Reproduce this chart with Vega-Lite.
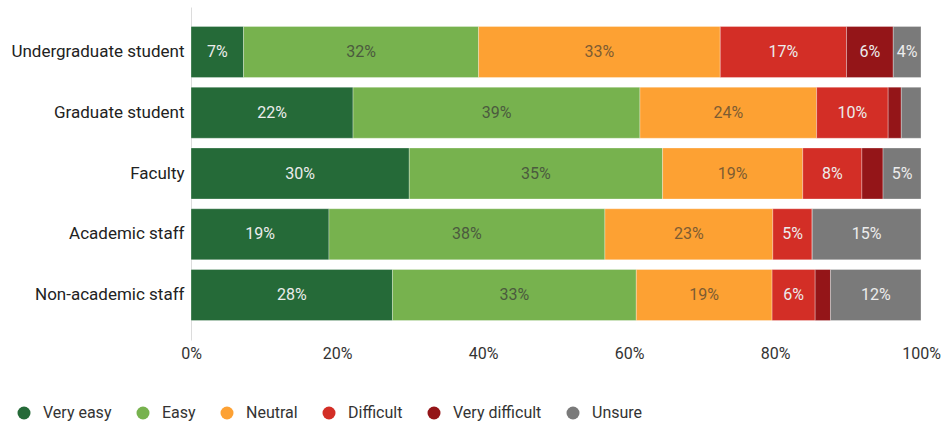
{
  "$schema": "https://vega.github.io/schema/vega-lite/v6.json",
  "width": 730,
  "height": 333,
  "autosize": {"type": "none"},
  "padding": {"left": 191, "top": 7, "right": 24, "bottom": 86},
  "background": "white",
  "config": {
    "font": "Roboto",
    "view": {"stroke": null}
  },
  "data": {
    "values": [
      {"group": "Undergraduate student", "cat": "Very easy", "k": 1, "value": 0.072},
      {"group": "Undergraduate student", "cat": "Easy", "k": 2, "value": 0.322},
      {"group": "Undergraduate student", "cat": "Neutral", "k": 3, "value": 0.331},
      {"group": "Undergraduate student", "cat": "Difficult", "k": 4, "value": 0.173},
      {"group": "Undergraduate student", "cat": "Very difficult", "k": 5, "value": 0.064},
      {"group": "Undergraduate student", "cat": "Unsure", "k": 6, "value": 0.038},
      {"group": "Graduate student", "cat": "Very easy", "k": 1, "value": 0.222},
      {"group": "Graduate student", "cat": "Easy", "k": 2, "value": 0.393},
      {"group": "Graduate student", "cat": "Neutral", "k": 3, "value": 0.242},
      {"group": "Graduate student", "cat": "Difficult", "k": 4, "value": 0.098},
      {"group": "Graduate student", "cat": "Very difficult", "k": 5, "value": 0.018},
      {"group": "Graduate student", "cat": "Unsure", "k": 6, "value": 0.027},
      {"group": "Faculty", "cat": "Very easy", "k": 1, "value": 0.299},
      {"group": "Faculty", "cat": "Easy", "k": 2, "value": 0.347},
      {"group": "Faculty", "cat": "Neutral", "k": 3, "value": 0.192},
      {"group": "Faculty", "cat": "Difficult", "k": 4, "value": 0.081},
      {"group": "Faculty", "cat": "Very difficult", "k": 5, "value": 0.029},
      {"group": "Faculty", "cat": "Unsure", "k": 6, "value": 0.052},
      {"group": "Academic staff", "cat": "Very easy", "k": 1, "value": 0.189},
      {"group": "Academic staff", "cat": "Easy", "k": 2, "value": 0.378},
      {"group": "Academic staff", "cat": "Neutral", "k": 3, "value": 0.230},
      {"group": "Academic staff", "cat": "Difficult", "k": 4, "value": 0.054},
      {"group": "Academic staff", "cat": "Very difficult", "k": 5, "value": 0.0},
      {"group": "Academic staff", "cat": "Unsure", "k": 6, "value": 0.149},
      {"group": "Non-academic staff", "cat": "Very easy", "k": 1, "value": 0.276},
      {"group": "Non-academic staff", "cat": "Easy", "k": 2, "value": 0.334},
      {"group": "Non-academic staff", "cat": "Neutral", "k": 3, "value": 0.186},
      {"group": "Non-academic staff", "cat": "Difficult", "k": 4, "value": 0.059},
      {"group": "Non-academic staff", "cat": "Very difficult", "k": 5, "value": 0.021},
      {"group": "Non-academic staff", "cat": "Unsure", "k": 6, "value": 0.124}
    ]
  },
  "transform": [
    {"stack": "value", "groupby": ["group"], "sort": [{"field": "k", "order": "ascending"}], "as": ["x0", "x1"]},
    {"calculate": "(datum.x0 + datum.x1) / 2", "as": "mid"}
  ],
  "encoding": {
    "y": {
      "field": "group",
      "type": "nominal",
      "sort": ["Undergraduate student", "Graduate student", "Faculty", "Academic staff", "Non-academic staff"],
      "scale": {"paddingInner": 0.16, "paddingOuter": 0.32},
      "axis": {
        "title": null,
        "ticks": false,
        "domain": true,
        "domainColor": "#dcdcdc",
        "domainWidth": 1,
        "labelFontSize": 17,
        "labelColor": "#222222",
        "labelPadding": 7,
        "labelFont": "Roboto"
      }
    }
  },
  "layer": [
    {
      "mark": {"type": "bar", "stroke": "#ffffff", "strokeWidth": 0.6, "strokeOpacity": 0.5},
      "encoding": {
        "x": {
          "field": "x0",
          "type": "quantitative",
          "scale": {"domain": [0, 1], "nice": false},
          "axis": {
            "title": null,
            "format": ".0%",
            "grid": false,
            "domain": false,
            "ticks": false,
            "labelFontSize": 16,
            "labelColor": "#333333",
            "labelPadding": 5,
            "labelOverlap": false,
            "labelFlush": false,
            "values": [0, 0.2, 0.4, 0.6, 0.8, 1]
          }
        },
        "x2": {"field": "x1"},
        "color": {
          "field": "cat",
          "type": "nominal",
          "scale": {
            "domain": ["Very easy", "Easy", "Neutral", "Difficult", "Very difficult", "Unsure"],
            "range": ["#256a38", "#77b24e", "#fda133", "#d32e26", "#941518", "#7a7a7a"]
          },
          "legend": {
            "title": null,
            "orient": "none",
            "direction": "horizontal",
            "legendX": -175,
            "legendY": 398,
            "symbolType": "circle",
            "symbolSize": 169,
            "symbolStrokeWidth": 0,
            "labelFontSize": 16,
            "labelColor": "#333333",
            "labelOffset": 11,
            "columnPadding": 23,
            "labelFont": "Roboto"
          }
        }
      }
    },
    {
      "transform": [{"filter": "datum.value >= 0.035"}],
      "mark": {"type": "text", "fontSize": 16, "font": "Roboto", "align": "center", "baseline": "middle"},
      "encoding": {
        "x": {"field": "mid", "type": "quantitative"},
        "text": {"field": "value", "type": "quantitative", "format": ".0%"},
        "color": {
          "condition": [
            {"test": "datum.cat === 'Easy'", "value": "#4b5a3e"},
            {"test": "datum.cat === 'Neutral'", "value": "#7d5c32"}
          ],
          "value": "#ececec"
        }
      }
    }
  ]
}
